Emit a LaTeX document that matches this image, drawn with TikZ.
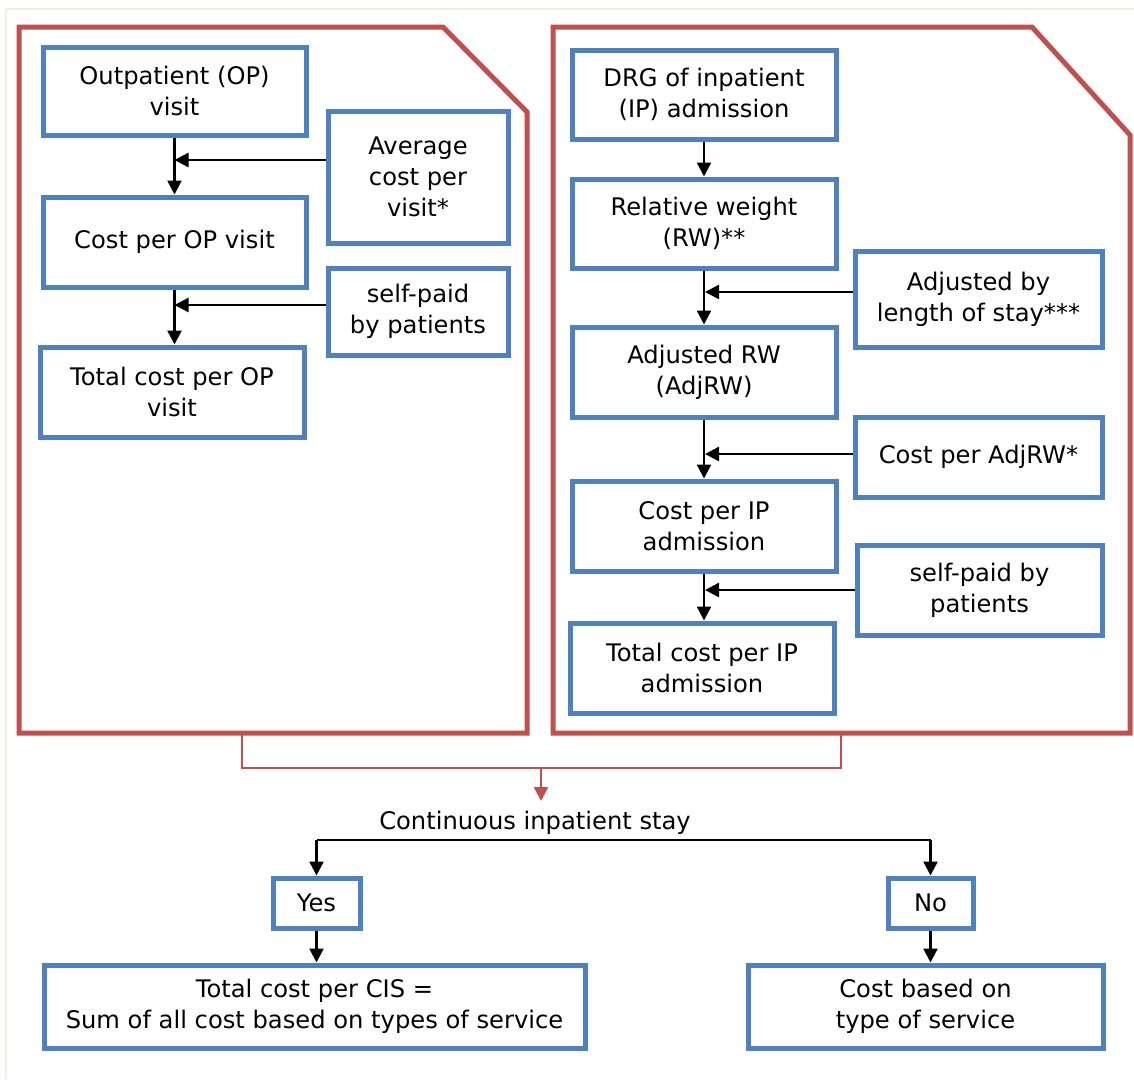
\documentclass[tikz,border=0pt]{standalone}
\usepackage{fontspec}
\setmainfont{DejaVu Sans}
\usetikzlibrary{arrows.meta}
\definecolor{panelred}{HTML}{C0504D}
\definecolor{boxblue}{HTML}{4F81BD}
\definecolor{framegray}{HTML}{EFEEE8}
\tikzset{
  flowbox/.style={draw=boxblue, line width=5pt, fill=white, align=center,
    inner sep=0pt, font=\fontsize{24.2}{31}\selectfont},
  panel/.style={draw=panelred, line width=5pt, line join=miter},
  arr/.style={draw=black, line width=2.4pt, -{Triangle[length=14pt,width=14pt]}},
  link/.style={draw=black, line width=2.4pt},
  redarr/.style={draw=panelred, line width=2.4pt, -{Triangle[length=14pt,width=14pt]}},
  caption/.style={font=\fontsize{24.2}{31}\selectfont, inner sep=0pt}
}
\begin{document}
\begin{tikzpicture}[x=1pt, y=-1pt]
\useasboundingbox (0,0) rectangle (1134,1079);
% faint page frame
\draw[framegray, line width=1.5pt] (6,1079) -- (6,9) -- (1134,9);

% outpatient and inpatient panels
\draw[panel] (19,27) -- (443,27) -- (527,112) -- (527,733) -- (19,733) -- cycle;
\draw[panel] (553,27) -- (1032,27) -- (1130,135) -- (1130,733) -- (553,733) -- cycle;

% outpatient chain
\node[flowbox, minimum width=263pt, minimum height=88pt] (op1) at (174.5,91) {Outpatient (OP)\\visit};
\node[flowbox, minimum width=180pt, minimum height=132pt] (avg) at (418,177) {Average\\cost per\\visit*};
\node[flowbox, minimum width=263pt, minimum height=90pt] (op2) at (174.5,242) {Cost per OP visit};
\node[flowbox, minimum width=180pt, minimum height=87pt] (self1) at (418,311.5) {self-paid\\by patients};
\node[flowbox, minimum width=264pt, minimum height=90pt] (op3) at (172,392) {Total cost per OP\\visit};

% inpatient chain
\node[flowbox, minimum width=264pt, minimum height=89pt] (drg) at (704,94.5) {DRG of inpatient\\(IP) admission};
\node[flowbox, minimum width=264pt, minimum height=89pt] (rw) at (704,223.5) {Relative weight\\(RW)**};
\node[flowbox, minimum width=247pt, minimum height=96pt] (los) at (978.5,299) {Adjusted by\\length of stay***};
\node[flowbox, minimum width=264pt, minimum height=90pt] (adj) at (704,372) {Adjusted RW\\(AdjRW)};
\node[flowbox, minimum width=247pt, minimum height=80pt] (cadj) at (978.5,457) {Cost per AdjRW*};
\node[flowbox, minimum width=264pt, minimum height=90pt] (cip) at (704,526) {Cost per IP\\admission};
\node[flowbox, minimum width=245pt, minimum height=90pt] (self2) at (979.5,590) {self-paid by\\patients};
\node[flowbox, minimum width=264pt, minimum height=90pt] (tip) at (702,668) {Total cost per IP\\admission};

% junctions where side inputs join the chains
\coordinate (j1) at (174.5,160);
\coordinate (j2) at (174.5,305);
\coordinate (j3) at (705,292);
\coordinate (j4) at (705,454);
\coordinate (j5) at (705,590);

\draw[arr] (op1.south) -- (op2.north);
\draw[arr] (avg.west |- j1) -- (j1);
\draw[arr] (op2.south) -- (op1.south |- op3.north);
\draw[arr] (self1.west |- j2) -- (j2);

\draw[arr] (drg.south) -- (rw.north);
\draw[arr] (rw.south) -- (adj.north);
\draw[arr] (los.west |- j3) -- (j3);
\draw[arr] (adj.south) -- (cip.north);
\draw[arr] (cadj.west |- j4) -- (j4);
\draw[arr] (cip.south) -- (cip.south |- tip.north);
\draw[arr] (self2.west |- j5) -- (j5);

% bracket joining both panels
\coordinate (bl) at (242,735);
\coordinate (br) at (841,735);
\coordinate (bm) at (541,768);
\draw[panelred, line width=2.4pt] (bl) -- (242,768) -- (841,768) -- (br);

% decision on continuous stay
\node[caption] (cis) at (535,823) {Continuous inpatient stay};
\draw[redarr] (bm) -- (541,801);

\node[flowbox, minimum width=87pt, minimum height=50pt] (yes) at (316.5,903) {Yes};
\node[flowbox, minimum width=85pt, minimum height=50pt] (no) at (930.5,903) {No};
\node[flowbox, minimum width=541pt, minimum height=83pt] (sum) at (314.5,1006.5) {Total cost per CIS =\\Sum of all cost based on types of service};
\node[flowbox, minimum width=355pt, minimum height=83pt] (type) at (925.5,1006.5) {Cost based on\\type of service};

\coordinate (split) at (535,840);
\draw[link] (split) -- (yes.north |- split);
\draw[link] (split) -- (no.north |- split);
\draw[arr] (yes.north |- split) -- (yes.north);
\draw[arr] (no.north |- split) -- (no.north);
\draw[arr] (yes.south) -- (yes.south |- sum.north);
\draw[arr] (no.south) -- (no.south |- type.north);
\end{tikzpicture}
\end{document}
